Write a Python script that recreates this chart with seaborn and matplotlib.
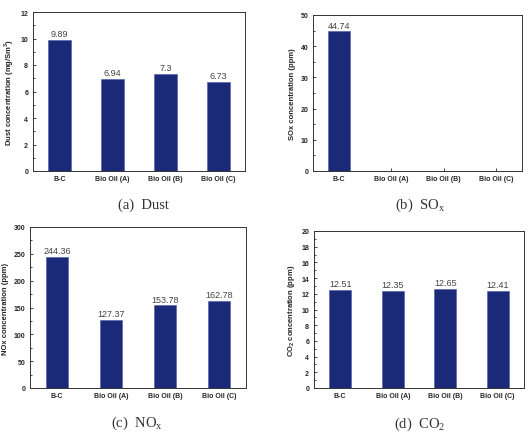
import numpy as np
import pandas as pd
import matplotlib
matplotlib.use("Agg")
import matplotlib.pyplot as plt
from matplotlib.ticker import MultipleLocator
import seaborn as sns

fuels = ["B-C", "Bio Oil (A)", "Bio Oil (B)", "Bio Oil (C)"]
dust = [9.89, 6.94, 7.3, 6.73]
sox = [44.74, 0, 0, 0]
nox = [244.36, 127.37, 153.78, 162.78]
co2 = [12.51, 12.35, 12.65, 12.41]

dust_labels = ["9.89", "6.94", "7.3", "6.73"]
sox_labels = ["44.74", "", "", ""]
nox_labels = ["244.36", "127.37", "153.78", "162.78"]
co2_labels = ["12.51", "12.35", "12.65", "12.41"]

sns.set_style("ticks")
plt.rcParams["font.family"] = ["Liberation Sans", "DejaVu Sans"]

fig = plt.figure(figsize=(5.3, 4.35), dpi=100)
W, H = 530, 435

def add_ax(x0, y0, x1, y1):
    return fig.add_axes([x0 / W, 1 - y1 / H, (x1 - x0) / W, (y1 - y0) / H])

panels = [
    (add_ax(33, 13, 245, 172), dust, dust_labels, 12, 2,
     "Dust concentration (mg/Sm$^\\mathregular{3}$)", "(a)  Dust", (143, 205)),
    (add_ax(313, 16, 522, 172), sox, sox_labels, 50, 10,
     "SOx concentration (ppm)", "(b)  SO$_\\mathregular{x}$", (420, 205)),
    (add_ax(30, 228, 246, 389), nox, nox_labels, 300, 50,
     "NOx concentration (ppm)", "(c)  NO$_\\mathregular{x}$", (137, 423)),
    (add_ax(314, 232, 524, 389), co2, co2_labels, 20, 2,
     "CO$_\\mathregular{2}$ concentration (ppm)", "(d)  CO$_\\mathregular{2}$", (420, 424)),
]

bar_color = "#1b2a78"

for ax, vals, labs, ymax, step, ylabel, caption, cpos in panels:
    df = pd.DataFrame({"fuel": fuels, "value": vals})
    sns.barplot(data=df, x="fuel", y="value", order=fuels, color=bar_color,
                width=0.42, saturation=1, edgecolor="#4a5aa8", linewidth=0.4, ax=ax)
    ax.set_xlim(-0.5, 3.5)
    ax.set_ylim(0, ymax)
    ax.yaxis.set_major_locator(MultipleLocator(step))
    ax.yaxis.set_minor_locator(MultipleLocator(step / 2))
    ax.tick_params(axis="both", which="both", direction="in", labelsize=5, width=0.6)
    ax.tick_params(axis="y", which="major", length=2.5)
    ax.tick_params(axis="y", which="minor", length=1.5)
    ax.tick_params(axis="x", length=2.5, pad=3)
    for t in ax.get_xticklabels() + ax.get_yticklabels():
        t.set_fontweight("bold")
    ax.set_xlabel("")
    ax.set_ylabel(ylabel, fontsize=5.5, fontweight="bold", labelpad=3)
    for s in ax.spines.values():
        s.set_linewidth(0.7)
        s.set_color("#333333")
    for i, (v, l) in enumerate(zip(vals, labs)):
        if l:
            ax.text(i, v + ymax * 0.012, l, ha="center", va="bottom",
                    fontsize=6.5, color="#444444")
    fig.text(cpos[0] / W, 1 - cpos[1] / H, caption, ha="center", va="center",
             fontsize=10.5, family=["Liberation Serif", "DejaVu Serif"], color="#333333")

fig.savefig("out.png", dpi=100)
